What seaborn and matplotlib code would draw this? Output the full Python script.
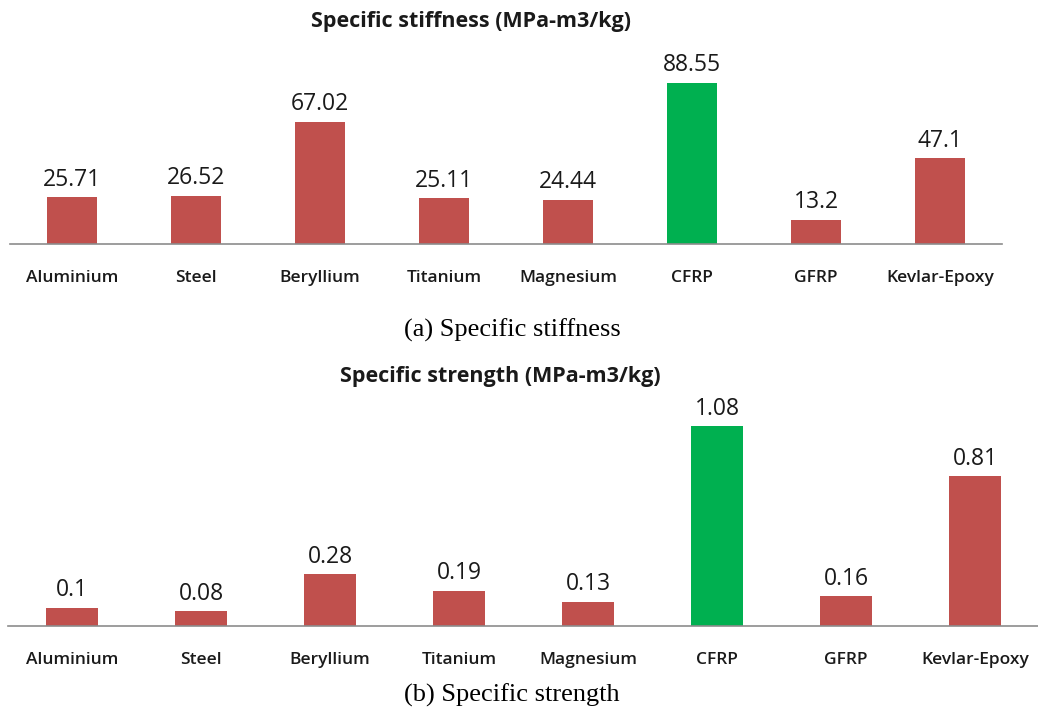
import matplotlib
matplotlib.use("Agg")
import matplotlib.pyplot as plt
import seaborn as sns

materials = ["Aluminium", "Steel", "Beryllium", "Titanium", "Magnesium",
             "CFRP", "GFRP", "Kevlar-Epoxy"]
stiffness = [25.71, 26.52, 67.02, 25.11, 24.44, 88.55, 13.2, 47.1]
strength = [0.1, 0.08, 0.28, 0.19, 0.13, 1.08, 0.16, 0.81]
highlight = "CFRP"

RED = "#C0504D"
GREEN = "#00B050"
palette = {m: (GREEN if m == highlight else RED) for m in materials}

sns.set_theme(style="white")
plt.rcParams["font.family"] = ["Open Sans", "DejaVu Sans"]

W, H = 1038, 711
fig = plt.figure(figsize=(W / 100, H / 100), dpi=100)


def px_axes(left, right, top, bottom):
    return fig.add_axes([left / W, 1 - bottom / H, (right - left) / W, (bottom - top) / H])


def draw(ax, values, ymax, pad):
    sns.barplot(x=materials, y=values, hue=materials, palette=palette,
                legend=False, width=0.4, ax=ax, saturation=1, edgecolor="none")
    ax.set_ylim(0, ymax)
    ax.set_xlim(-0.5, len(materials) - 0.5)
    for c in ax.containers:
        ax.bar_label(c, fmt="{:g}", padding=pad, fontsize=16.5, color="#1a1a1a")
    for s in ("top", "left", "right"):
        ax.spines[s].set_visible(False)
    ax.spines["bottom"].set_color("#8c8c8c")
    ax.spines["bottom"].set_linewidth(1.2)
    ax.set_yticks([])
    ax.set_xlabel("")
    ax.set_ylabel("")
    ax.tick_params(axis="x", length=0, pad=19, labelsize=12.5, labelcolor="#1a1a1a")
    for t in ax.get_xticklabels():
        t.set_fontweight("semibold")
    ax.patch.set_alpha(0)


ax1 = px_axes(10, 1002, 62, 244)
draw(ax1, stiffness, 100, 4)

ax2 = px_axes(7.5, 1039.5, 404, 626)
draw(ax2, strength, 1.2, 4)

fig.text(471 / W, 1 - 21 / H, "Specific stiffness (MPa-m3/kg)", ha="center", va="center",
         fontsize=15.5, fontweight="bold", color="#1a1a1a")
fig.text(500 / W, 1 - 376 / H, "Specific strength (MPa-m3/kg)", ha="center", va="center",
         fontsize=15.5, fontweight="bold", color="#1a1a1a")
fig.text(512 / W, 1 - 330 / H, "(a) Specific stiffness", ha="center", va="center",
         fontsize=19, family="Liberation Serif", color="black")
fig.text(512 / W, 1 - 695 / H, "(b) Specific strength", ha="center", va="center",
         fontsize=19, family="Liberation Serif", color="black")

fig.savefig("out.png", dpi=100, facecolor="white")
